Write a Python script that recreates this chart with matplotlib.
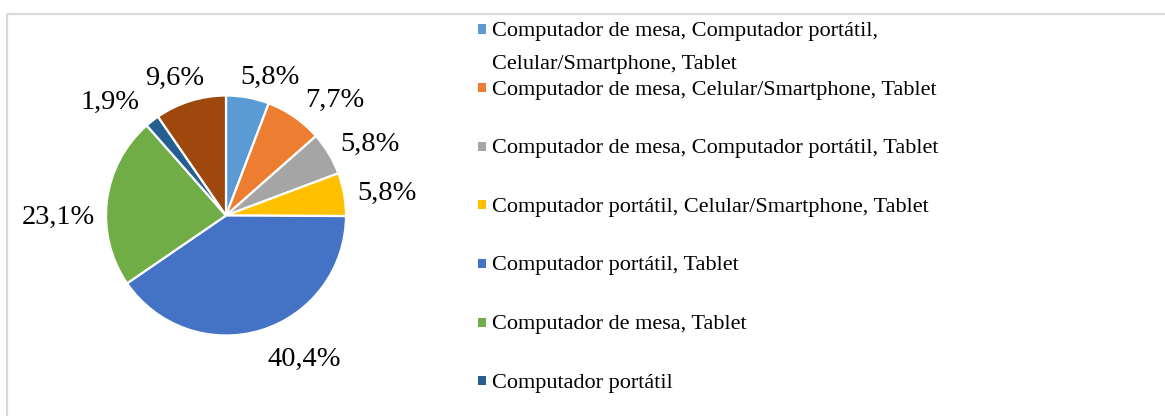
import numpy as np
import matplotlib.pyplot as plt
from matplotlib.patches import Rectangle
from matplotlib.lines import Line2D

plt.rcParams['font.family'] = ['Liberation Serif', 'DejaVu Serif']

# device combinations and their share (%)
categories = [
    "Computador de mesa, Computador portátil,\nCelular/Smartphone, Tablet",
    "Computador de mesa, Celular/Smartphone, Tablet",
    "Computador de mesa, Computador portátil, Tablet",
    "Computador portátil, Celular/Smartphone, Tablet",
    "Computador portátil, Tablet",
    "Computador de mesa, Tablet",
    "Computador portátil",
    "Computador de mesa, Computador portátil",
]
shares = [5.8, 7.7, 5.8, 5.8, 40.4, 23.1, 1.9, 9.6]
colors = ["#5B9BD5", "#ED7D31", "#A5A5A5", "#FFC000",
          "#4472C4", "#70AD47", "#255E91", "#9E480E"]

# label placement tweaks (angle nudge in deg clockwise, radial distance)
label_nudge = [7, 8, 4, 1.5, -12, -7, -7, -3]
label_dist = [1.23, 1.34, 1.345, 1.355, 1.35, 1.40, 1.365, 1.24]

W, H = 1165, 416
fig = plt.figure(figsize=(W / 100, H / 100), dpi=100)

# light frame: top and left edges (the rest runs off the canvas)
frame_kw = dict(transform=fig.transFigure, color="#d9d9d9", linewidth=1.6,
                solid_capstyle="butt")
fig.add_artist(Line2D([7 / W, 1.05], [(H - 14) / H] * 2, **frame_kw))
fig.add_artist(Line2D([7 / W] * 2, [-0.05, (H - 14) / H], **frame_kw))

# pie axes: 300px box centred on the pie
cx, cy, r_px, box = 226, 215.5, 115.5, 300
ax = fig.add_axes([(cx - box / 2) / W, (H - cy - box / 2) / H, box / W, box / H])
lim = (box / 2) / r_px
ax.set_xlim(-lim, lim)
ax.set_ylim(-lim, lim)
ax.axis("off")

wedges, _ = ax.pie(shares, colors=colors, startangle=90, counterclock=False,
                   radius=1, wedgeprops=dict(edgecolor="white", linewidth=1.6))

y_off = -2.5 / r_px
for w, val, nud, dist in zip(wedges, shares, label_nudge, label_dist):
    ang = np.deg2rad((w.theta1 + w.theta2) / 2 - nud)
    ax.text(dist * np.cos(ang), dist * np.sin(ang) + y_off,
            f"{val:.1f}%".replace(".", ","), fontsize=20.5,
            ha="center", va="center", clip_on=False)

# legend drawn by hand, one row per category; rows past the bottom are dropped
leg_x, leg_y0, leg_step, line_gap = 478, 29, 58.6, 33
for i, (lab, col) in enumerate(zip(categories, colors)):
    y = leg_y0 + i * leg_step
    if y + 12 > H:
        break
    fig.patches.append(Rectangle((leg_x / W, (H - y - 4.5) / H), 8 / W, 9 / H,
                                 transform=fig.transFigure, facecolor=col,
                                 edgecolor="none"))
    for j, line in enumerate(lab.split("\n")):
        fig.text(492 / W, (H - y - j * line_gap) / H, line, fontsize=16,
                 ha="left", va="center_baseline")

fig.savefig("out.png", dpi=100)
